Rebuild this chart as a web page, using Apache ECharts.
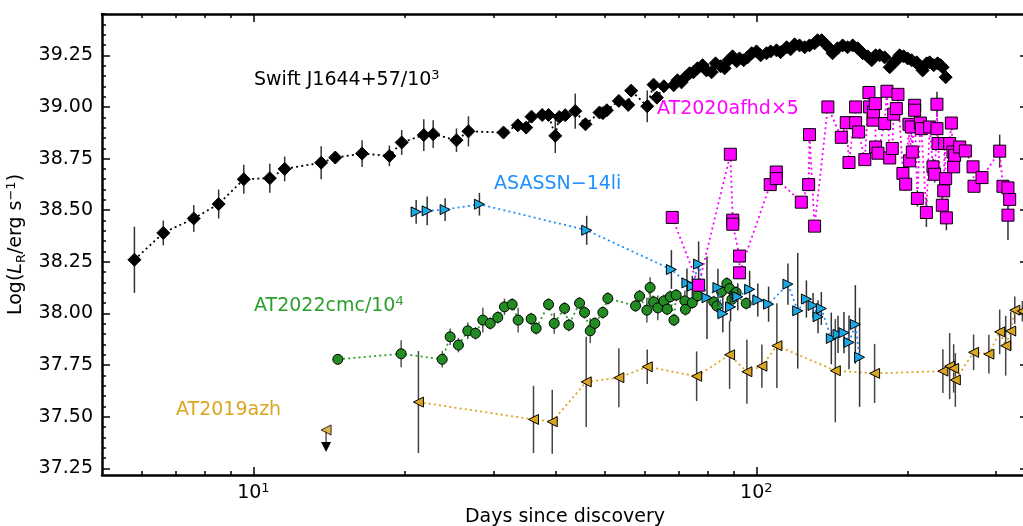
<!DOCTYPE html>
<html>
<head>
<meta charset="utf-8">
<title>Radio light curves</title>
<script src="https://cdn.jsdelivr.net/npm/echarts@6/dist/echarts.min.js"></script>
<style>
  html, body { margin: 0; padding: 0; background: #fff; }
  #chart { width: 1023px; height: 526px; }
</style>
</head>
<body>
<div id="chart"></div>
<script>
// ---- data (days since discovery, log L, error) ----
var swiftDays = [5.80, 6.62, 7.61, 8.53, 9.57, 10.78, 11.54, 13.64, 14.55, 16.45, 18.64, 19.72, 21.82, 22.78,
  25.34, 26.77, 31.43, 33.56, 34.87, 35.73, 37.52, 38.63, 39.84, 40.57, 41.69, 43.65, 45.75, 48.78, 49.54,
  50.45, 53.30, 55.65, 56.40, 60.71, 62.48, 63.44, 65.5,
  68.5, 69.7, 71.0, 72.3, 73.7, 75.0, 76.4, 78.2, 79.6, 81.5, 83.0, 84.9, 86.5, 88.1, 89.7, 91.4, 92.6, 94.4,
  96.1, 97.9, 100.1, 102.0, 104.8, 106.8, 109.7, 111.8, 114.9, 117.0, 119.2, 121.9, 124.8, 127.6, 130.6, 132.4,
  134.9, 137.4, 139.9, 141.8, 145.1, 148.5, 151.9, 155.5, 159.1, 162.8, 166.5, 169.6, 172.7, 175.9, 180.0,
  184.2, 187.6, 190.2, 192.8, 196.3, 200.0, 203.7, 208.4, 211.3, 214.2, 218.2, 221.2, 225.3, 229.4, 232.6,
  234.7, 238.0];
var swiftLum = [38.26, 38.39, 38.46, 38.53, 38.65, 38.655, 38.70, 38.73, 38.755, 38.774, 38.763, 38.828, 38.864, 38.868,
  38.839, 38.882, 38.876, 38.911, 38.90, 38.953, 38.961, 38.961, 38.86, 38.951, 38.96, 38.98, 38.916, 38.973, 38.97,
  38.984, 39.029, 39.01, 39.079, 39.003, 39.108, 39.045, 39.10,
  39.105, 39.129, 39.119, 39.144, 39.163, 39.168, 39.187, 39.202, 39.177, 39.168, 39.211, 39.197, 39.187, 39.226,
  39.245, 39.221, 39.235, 39.226, 39.24, 39.26, 39.269, 39.25, 39.26, 39.269, 39.274, 39.265, 39.289, 39.279,
  39.303, 39.298, 39.289, 39.298, 39.308, 39.323, 39.323, 39.303, 39.284, 39.26, 39.284, 39.298, 39.289, 39.298,
  39.284, 39.26, 39.245, 39.226, 39.25, 39.25, 39.24, 39.192, 39.216, 39.226, 39.25, 39.245, 39.235, 39.226,
  39.216, 39.197, 39.177, 39.211, 39.216, 39.202, 39.211, 39.202, 39.192, 39.144];
var swiftErr = [0.16, 0.06, 0.065, 0.07, 0.07, 0.07, 0.06, 0.08, 0.03, 0.065, 0.05, 0.06, 0.077, 0.067,
  0.057, 0.073, 0.02, 0.02, 0.02, 0.02, 0.02, 0.02, 0.083, 0.02, 0.02, 0.085, 0.02, 0.02, 0.02,
  0.02, 0.02, 0.02, 0.02, 0.077, 0.02, 0.02, 0.02,
  0.02, 0.02, 0.02, 0.02, 0.02, 0.02, 0.02, 0.02, 0.02, 0.02, 0.02, 0.02, 0.02, 0.02, 0.02, 0.02, 0.02, 0.02,
  0.02, 0.02, 0.02, 0.02, 0.02, 0.02, 0.02, 0.02, 0.02, 0.02, 0.02, 0.02, 0.02, 0.02, 0.02, 0.02,
  0.02, 0.02, 0.02, 0.02, 0.02, 0.02, 0.02, 0.02, 0.02, 0.02, 0.02, 0.02, 0.02, 0.02, 0.02,
  0.02, 0.02, 0.02, 0.02, 0.02, 0.02, 0.02, 0.02, 0.02, 0.02, 0.02, 0.02, 0.02, 0.02, 0.02,
  0.02, 0.02];

var afhdDays = [68.06, 76.8, 88.8, 89.8, 89.8, 92.6, 92.6, 106.6, 109.6, 109.6, 122.9, 127.1, 127.6, 130.6,
  138.8, 147.6, 151.0, 152.9, 157.6, 157.6, 159.8, 164.4, 167.5, 168.0, 170.6, 171.1, 172.5, 172.7, 174.6,
  180.0, 181.9, 184.2, 186.4, 187.6, 189.9, 191.3, 195.7, 198.2, 201.2, 201.8, 203.4, 204.3, 206.5, 206.5,
  209.1, 212.0, 212.9, 217.9, 221.2, 224.6, 226.3, 228.7, 228.7, 229.8, 234.4, 235.9, 236.9, 238.0, 238.8,
  242.4, 244.3, 246.1, 246.9, 248.0, 253.8, 260.5, 269.8, 271.0, 281.1, 304.8, 309.4, 316.6, 316.6, 319.1];
var afhdLum = [38.465, 38.137, 38.771, 38.452, 38.432, 38.278, 38.197, 38.624, 38.685, 38.653, 38.539, 38.624, 38.866, 38.423,
  39.00, 38.853, 38.924, 38.731, 39.00, 38.924, 38.879, 38.745, 39.07, 39.00, 38.936, 38.976, 39.016, 38.806, 38.776,
  38.92, 39.076, 38.753, 38.799, 38.965, 38.992, 39.061, 38.678, 38.626, 38.916, 38.739, 38.903, 38.782, 39.008, 38.984,
  38.557, 38.922, 38.895, 38.489, 38.903, 38.71, 38.674, 38.895, 39.013, 38.823, 38.524, 38.594, 38.823, 38.653, 38.463,
  38.823, 38.922, 38.782, 38.71, 38.766, 38.806, 38.787, 38.71, 38.616, 38.658, 38.786, 38.616, 38.608, 38.476, 38.552];
var afhdErr = [0.02, 0.02, 0.02, 0.02, 0.02, 0.02, 0.02, 0.02, 0.02, 0.02, 0.02, 0.02, 0.02, 0.02,
  0.02, 0.02, 0.02, 0.03, 0.02, 0.02, 0.02, 0.02, 0.02, 0.02, 0.02, 0.02, 0.02, 0.02, 0.02,
  0.02, 0.03, 0.02, 0.03, 0.02, 0.02, 0.03, 0.02, 0.03, 0.02, 0.02, 0.02, 0.03, 0.02, 0.02,
  0.04, 0.02, 0.02, 0.07, 0.02, 0.04, 0.04, 0.02, 0.06, 0.03, 0.05, 0.03, 0.03, 0.03, 0.06,
  0.02, 0.03, 0.03, 0.02, 0.03, 0.02, 0.02, 0.02, 0.02, 0.02, 0.08, 0.02, 0.03, 0.12, 0.03];

var liDays = [21.07, 22.16, 24.06, 28.15, 46.0, 67.8, 72.8, 74.6, 76.8, 79.8, 83.9, 85.8, 88.9, 91.9, 97.0,
  100.7, 105.8, 115.6, 120.9, 125.8, 129.7, 132.7, 134.7, 141.0, 145.4, 149.4, 152.9, 157.4, 160.5];
var liLum = [38.492, 38.497, 38.503, 38.529, 38.403, 38.213, 38.148, 38.132, 38.239, 38.076, 38.126, 37.999, 38.032, 38.081, 38.117,
  38.065, 38.045, 38.142, 38.013, 38.07, 38.039, 37.984, 38.024, 37.879, 37.899, 37.907, 37.86, 37.947, 37.788];
var liErr = [0.057, 0.07, 0.055, 0.055, 0.07, 0.094, 0.07, 0.05, 0.11, 0.2, 0.09, 0.09, 0.07, 0.065, 0.09,
  0.08, 0.085, 0.1, 0.28, 0.09, 0.06, 0.08, 0.08, 0.125, 0.09, 0.1, 0.13, 0.19, 0.24];

var cmcDays = [14.72, 19.67, 23.74, 24.62, 25.57, 26.69, 27.65, 28.59, 29.58, 30.62, 31.57, 32.70, 33.61, 35.67,
  36.50, 38.63, 39.65, 41.57, 42.39, 44.52, 45.55, 46.76, 47.75, 49.54, 50.68, 57.54, 58.60, 60.60, 61.50,
  62.50, 63.70, 65.50, 66.50, 67.45, 68.60, 69.30, 72.10, 72.30, 74.60, 76.50, 82.30, 83.50, 85.30, 87.40,
  88.50, 89.40, 90.50, 91.20, 95.50];
var cmcLum = [37.778, 37.805, 37.778, 37.887, 37.847, 37.916, 37.904, 37.968, 37.952, 37.981, 38.032, 38.044, 37.968, 37.974,
  37.928, 38.044, 37.952, 38.025, 37.944, 38.050, 38.005, 37.916, 37.952, 38.005, 38.073, 38.037, 38.084, 38.016, 38.126,
  38.056, 38.027, 38.061, 38.021, 38.081, 37.968, 38.089, 38.061, 38.020, 38.052, 38.086, 38.056, 38.036, 38.105, 38.145,
  38.121, 38.068, 38.094, 38.102, 38.049];
var cmcErr = [0.025, 0.065, 0.04, 0.04, 0.035, 0.04, 0.03, 0.06, 0.03, 0.03, 0.04, 0.03, 0.06, 0.03,
  0.03, 0.03, 0.05, 0.03, 0.03, 0.03, 0.03, 0.06, 0.03, 0.03, 0.03, 0.03, 0.03, 0.06, 0.05,
  0.03, 0.06, 0.03, 0.03, 0.03, 0.03, 0.03, 0.05, 0.03, 0.03, 0.03, 0.03, 0.03, 0.03, 0.03,
  0.03, 0.03, 0.03, 0.03, 0.03];

var azhDays = [21.29, 36.06, 39.29, 45.9, 53.3, 60.7, 76.1, 88.5, 95.8, 102.6, 109.9, 143.6, 171.9, 235.0,
  242.4, 246.9, 248.8, 270.5, 290.1, 304.8, 313.3, 320.6, 326.6, 338.2];
var azhLum = [37.571, 37.487, 37.476, 37.669, 37.689, 37.742, 37.696, 37.80, 37.718, 37.745, 37.844, 37.723, 37.71, 37.721,
  37.745, 37.734, 37.678, 37.812, 37.803, 37.911, 37.844, 37.915, 38.016, 38.011];
var azhErr = [0.247, 0.163, 0.155, 0.218, 0.143, 0.084, 0.12, 0.165, 0.155, 0.105, 0.205, 0.25, 0.143, 0.106,
  0.16, 0.117, 0.13, 0.086, 0.094, 0.108, 0.145, 0.093, 0.066, 0.05];
// upper limit
var azhLimDays = [13.95];
var azhLimLum = [37.436];

// ---- axis ticks ----
var xMajor = [10, 100];
var xMinor = [6, 7, 8, 9, 20, 30, 40, 50, 60, 70, 80, 90, 200, 300];
var yMajor = [37.25, 37.5, 37.75, 38.0, 38.25, 38.5, 38.75, 39.0, 39.25];
var yMinor = [];
for (var t = 37.25; t < 39.45; t += 0.05) yMinor.push(Math.round(t * 100) / 100);

var FONT = 'DejaVu Sans';
var xMin = 5, xMax = 347, yMin = 37.218, yMax = 39.45;

function zip(a, b, c) {
  return a.map(function (v, i) { return c ? [v, b[i], c[i]] : [v, b[i]]; });
}

function errSeries(days, lum, err, color, z) {
  return {
    type: 'custom',
    silent: true,
    clip: true,
    z: z,
    data: zip(days, lum, err),
    renderItem: function (params, api) {
      var x = api.value(0), y = api.value(1), e = api.value(2);
      var p1 = api.coord([x, y - e]);
      var p2 = api.coord([x, y + e]);
      return {
        type: 'line',
        shape: { x1: p1[0], y1: p1[1], x2: p2[0], y2: p2[1] },
        style: { stroke: color, lineWidth: 1.5 }
      };
    }
  };
}

function dataSeries(days, lum, symbol, size, rot, fill, lineColor, z) {
  return {
    type: 'line',
    z: z,
    data: zip(days, lum),
    symbol: symbol,
    symbolSize: size,
    symbolRotate: rot,
    showSymbol: true,
    clip: true,
    itemStyle: { color: fill, borderColor: '#000', borderWidth: 1 },
    lineStyle: { color: lineColor, width: 1.8, type: [2, 3.2] },
    emphasis: { disabled: true }
  };
}

function xAx(pos, ticks, len, showLabel, showLine) {
  return {
    type: 'log', position: pos, min: xMin, max: xMax, logBase: 10,
    axisLine: { show: showLine, onZero: false, lineStyle: { color: '#000', width: 2.5 } },
    axisTick: { show: true, inside: true, length: len, customValues: ticks, lineStyle: { color: '#000', width: 1.5 } },
    axisLabel: {
      show: showLabel, customValues: ticks, margin: 7,
      fontFamily: FONT, fontSize: 19, color: '#000',
      formatter: function (v) { return '10{sup|' + Math.round(Math.log10(v)) + '}'; },
      rich: { sup: { fontFamily: FONT, fontSize: 13, color: '#000', verticalAlign: 'top', padding: [0, 0, 10, 0] } }
    },
    splitLine: { show: false },
    minorTick: { show: false }
  };
}

function yAx(pos, ticks, len, showLabel, showLine) {
  return {
    type: 'value', position: pos, min: yMin, max: yMax,
    axisLine: { show: showLine, onZero: false, lineStyle: { color: '#000', width: 2.5 } },
    axisTick: { show: true, inside: true, length: len, customValues: ticks, lineStyle: { color: '#000', width: 1.5 } },
    axisLabel: {
      show: showLabel, customValues: ticks, margin: 9,
      fontFamily: FONT, fontSize: 19, color: '#000',
      formatter: function (v) { return v.toFixed(2); }
    },
    splitLine: { show: false }
  };
}

var xAxes = [
  xAx('bottom', xMajor, 8, true, true),
  xAx('bottom', xMinor, 4, false, false),
  xAx('top', xMajor, 8, false, true),
  xAx('top', xMinor, 4, false, false)
];
xAxes[0].name = 'Days since discovery';
xAxes[0].nameLocation = 'middle';
xAxes[0].nameGap = 32;
xAxes[0].nameTextStyle = { fontFamily: FONT, fontSize: 19, color: '#000' };

var yAxes = [
  yAx('left', yMajor, 8, true, true),
  yAx('left', yMinor, 4, false, false),
  yAx('right', yMajor, 8, false, true),
  yAx('right', yMinor, 4, false, false)
];
yAxes[0].name = 'Log({it|L}{sub|R}/erg s{sup|\u22121})';
yAxes[0].nameLocation = 'middle';
yAxes[0].nameGap = 64;
yAxes[0].nameTextStyle = {
  fontFamily: FONT, fontSize: 19, color: '#000',
  rich: {
    it: { fontFamily: FONT, fontSize: 19, fontStyle: 'italic', color: '#000' },
    sub: { fontFamily: FONT, fontSize: 13, color: '#000', verticalAlign: 'bottom', padding: [6, 0, 0, 0] },
    sup: { fontFamily: FONT, fontSize: 13, color: '#000', verticalAlign: 'top', padding: [0, 0, 10, 0] }
  }
};

function note(text, left, top, color) {
  return {
    type: 'text', left: left, top: top, silent: true,
    style: {
      text: text, fill: color, fontFamily: FONT, fontSize: 19,
      rich: { sup: { fontFamily: FONT, fontSize: 13, fill: color, verticalAlign: 'top', padding: [0, 0, 10, 0] } }
    }
  };
}

var chart = echarts.init(document.getElementById('chart'), null, { renderer: 'canvas' });
chart.setOption({
  animation: false,
  backgroundColor: '#fff',
  grid: { left: 102, right: -5, top: 14, bottom: 51, containLabel: false, outerBoundsMode: 'none' },
  xAxis: xAxes,
  yAxis: yAxes,
  graphic: [
    note('Swift J1644+57/10{sup|3}', 254, 69, '#000'),
    note('AT2020afhd\u00d75', 657, 100, '#ff00ff'),
    note('ASASSN\u221214li', 494, 175, '#1e90ff'),
    note('AT2022cmc/10{sup|4}', 254, 295, '#2ca02c'),
    note('AT2019azh', 176, 401, '#daa520')
  ],
  series: [
    errSeries(swiftDays, swiftLum, swiftErr, '#333', 2),
    dataSeries(swiftDays, swiftLum, 'diamond', 13, 0, '#000', '#000', 3),
    errSeries(azhDays, azhLum, azhErr, '#444', 4),
    dataSeries(azhDays, azhLum, 'triangle', 10, 90, '#daa520', '#daa520', 5),
    {
      type: 'custom', silent: true, z: 5,
      data: zip(azhLimDays, azhLimLum),
      renderItem: function (params, api) {
        var p = api.coord([api.value(0), api.value(1)]);
        return {
          type: 'group',
          children: [
            { type: 'line', shape: { x1: p[0], y1: p[1], x2: p[0], y2: p[1] + 13 }, style: { stroke: '#555', lineWidth: 1.5 } },
            { type: 'polygon', shape: { points: [[p[0] - 5, p[1] + 12], [p[0] + 5, p[1] + 12], [p[0], p[1] + 22]] }, style: { fill: '#000' } }
          ]
        };
      }
    },
    {
      type: 'scatter', z: 6, data: zip(azhLimDays, azhLimLum), symbol: 'triangle', symbolSize: 10, symbolRotate: 90,
      itemStyle: { color: '#daa520', borderColor: '#000', borderWidth: 1 }
    },
    errSeries(cmcDays, cmcLum, cmcErr, '#555', 6),
    dataSeries(cmcDays, cmcLum, 'circle', 10, 0, '#228b22', '#2ca02c', 7),
    errSeries(liDays, liLum, liErr, '#333', 8),
    dataSeries(liDays, liLum, 'triangle', 10, -90, '#1ca8e3', '#1e90ff', 9),
    errSeries(afhdDays, afhdLum, afhdErr, '#333', 10),
    dataSeries(afhdDays, afhdLum, 'rect', 12, 0, '#ff00ff', '#ff00ff', 11)
  ]
});
</script>
</body>
</html>
